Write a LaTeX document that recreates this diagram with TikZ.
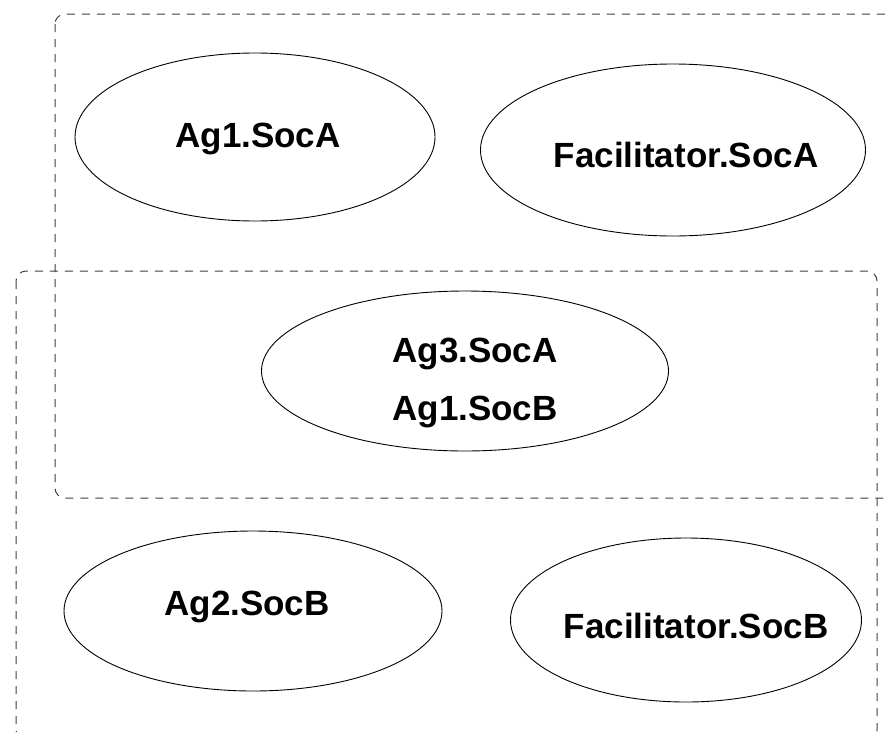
\documentclass[tikz,border=0pt]{standalone}
\usepackage{fontspec}
\setmainfont{Liberation Sans}
\usetikzlibrary{shapes.geometric}
\begin{document}
\begin{tikzpicture}[x=1pt,y=-1pt,
  grp/.style={draw=black!75,line width=1pt,dash pattern=on 8pt off 7pt,rounded corners=10pt},
  soc/.style={draw=black,line width=0.9pt,ellipse,inner sep=0pt},
  lbl/.style={font=\fontsize{35}{58}\selectfont\bfseries,align=center,inner sep=0pt}]
\useasboundingbox (0,0) rectangle (890,731);
\clip (0,0) rectangle (890,731);
\fill[white] (0,0) rectangle (890,731);
% groups
\draw[grp] (55,14) rectangle (905,498);
\draw[grp] (16,271) rectangle (877,740);
% ellipses
\node[soc,minimum width=360pt,minimum height=168pt] (e1) at (255,137) {};
\node[soc,minimum width=385pt,minimum height=172pt] (e2) at (673,150) {};
\node[soc,minimum width=407pt,minimum height=160pt] (e3) at (465,371) {};
\node[soc,minimum width=378pt,minimum height=160pt] (e4) at (253,611) {};
\node[soc,minimum width=351pt,minimum height=164pt] (e5) at (686,620) {};
% labels
\node[lbl] (t1) at (258,139) {Ag1.SocA};
\node[lbl] (t2) at (686,155) {Facilitator.SocA};
\node[lbl] (t3) at (475,383) {Ag3.SocA\\Ag1.SocB};
\node[lbl] (t4) at (247,607) {Ag2.SocB};
\node[lbl] (t5) at (696,626) {Facilitator.SocB};
\end{tikzpicture}
\end{document}
